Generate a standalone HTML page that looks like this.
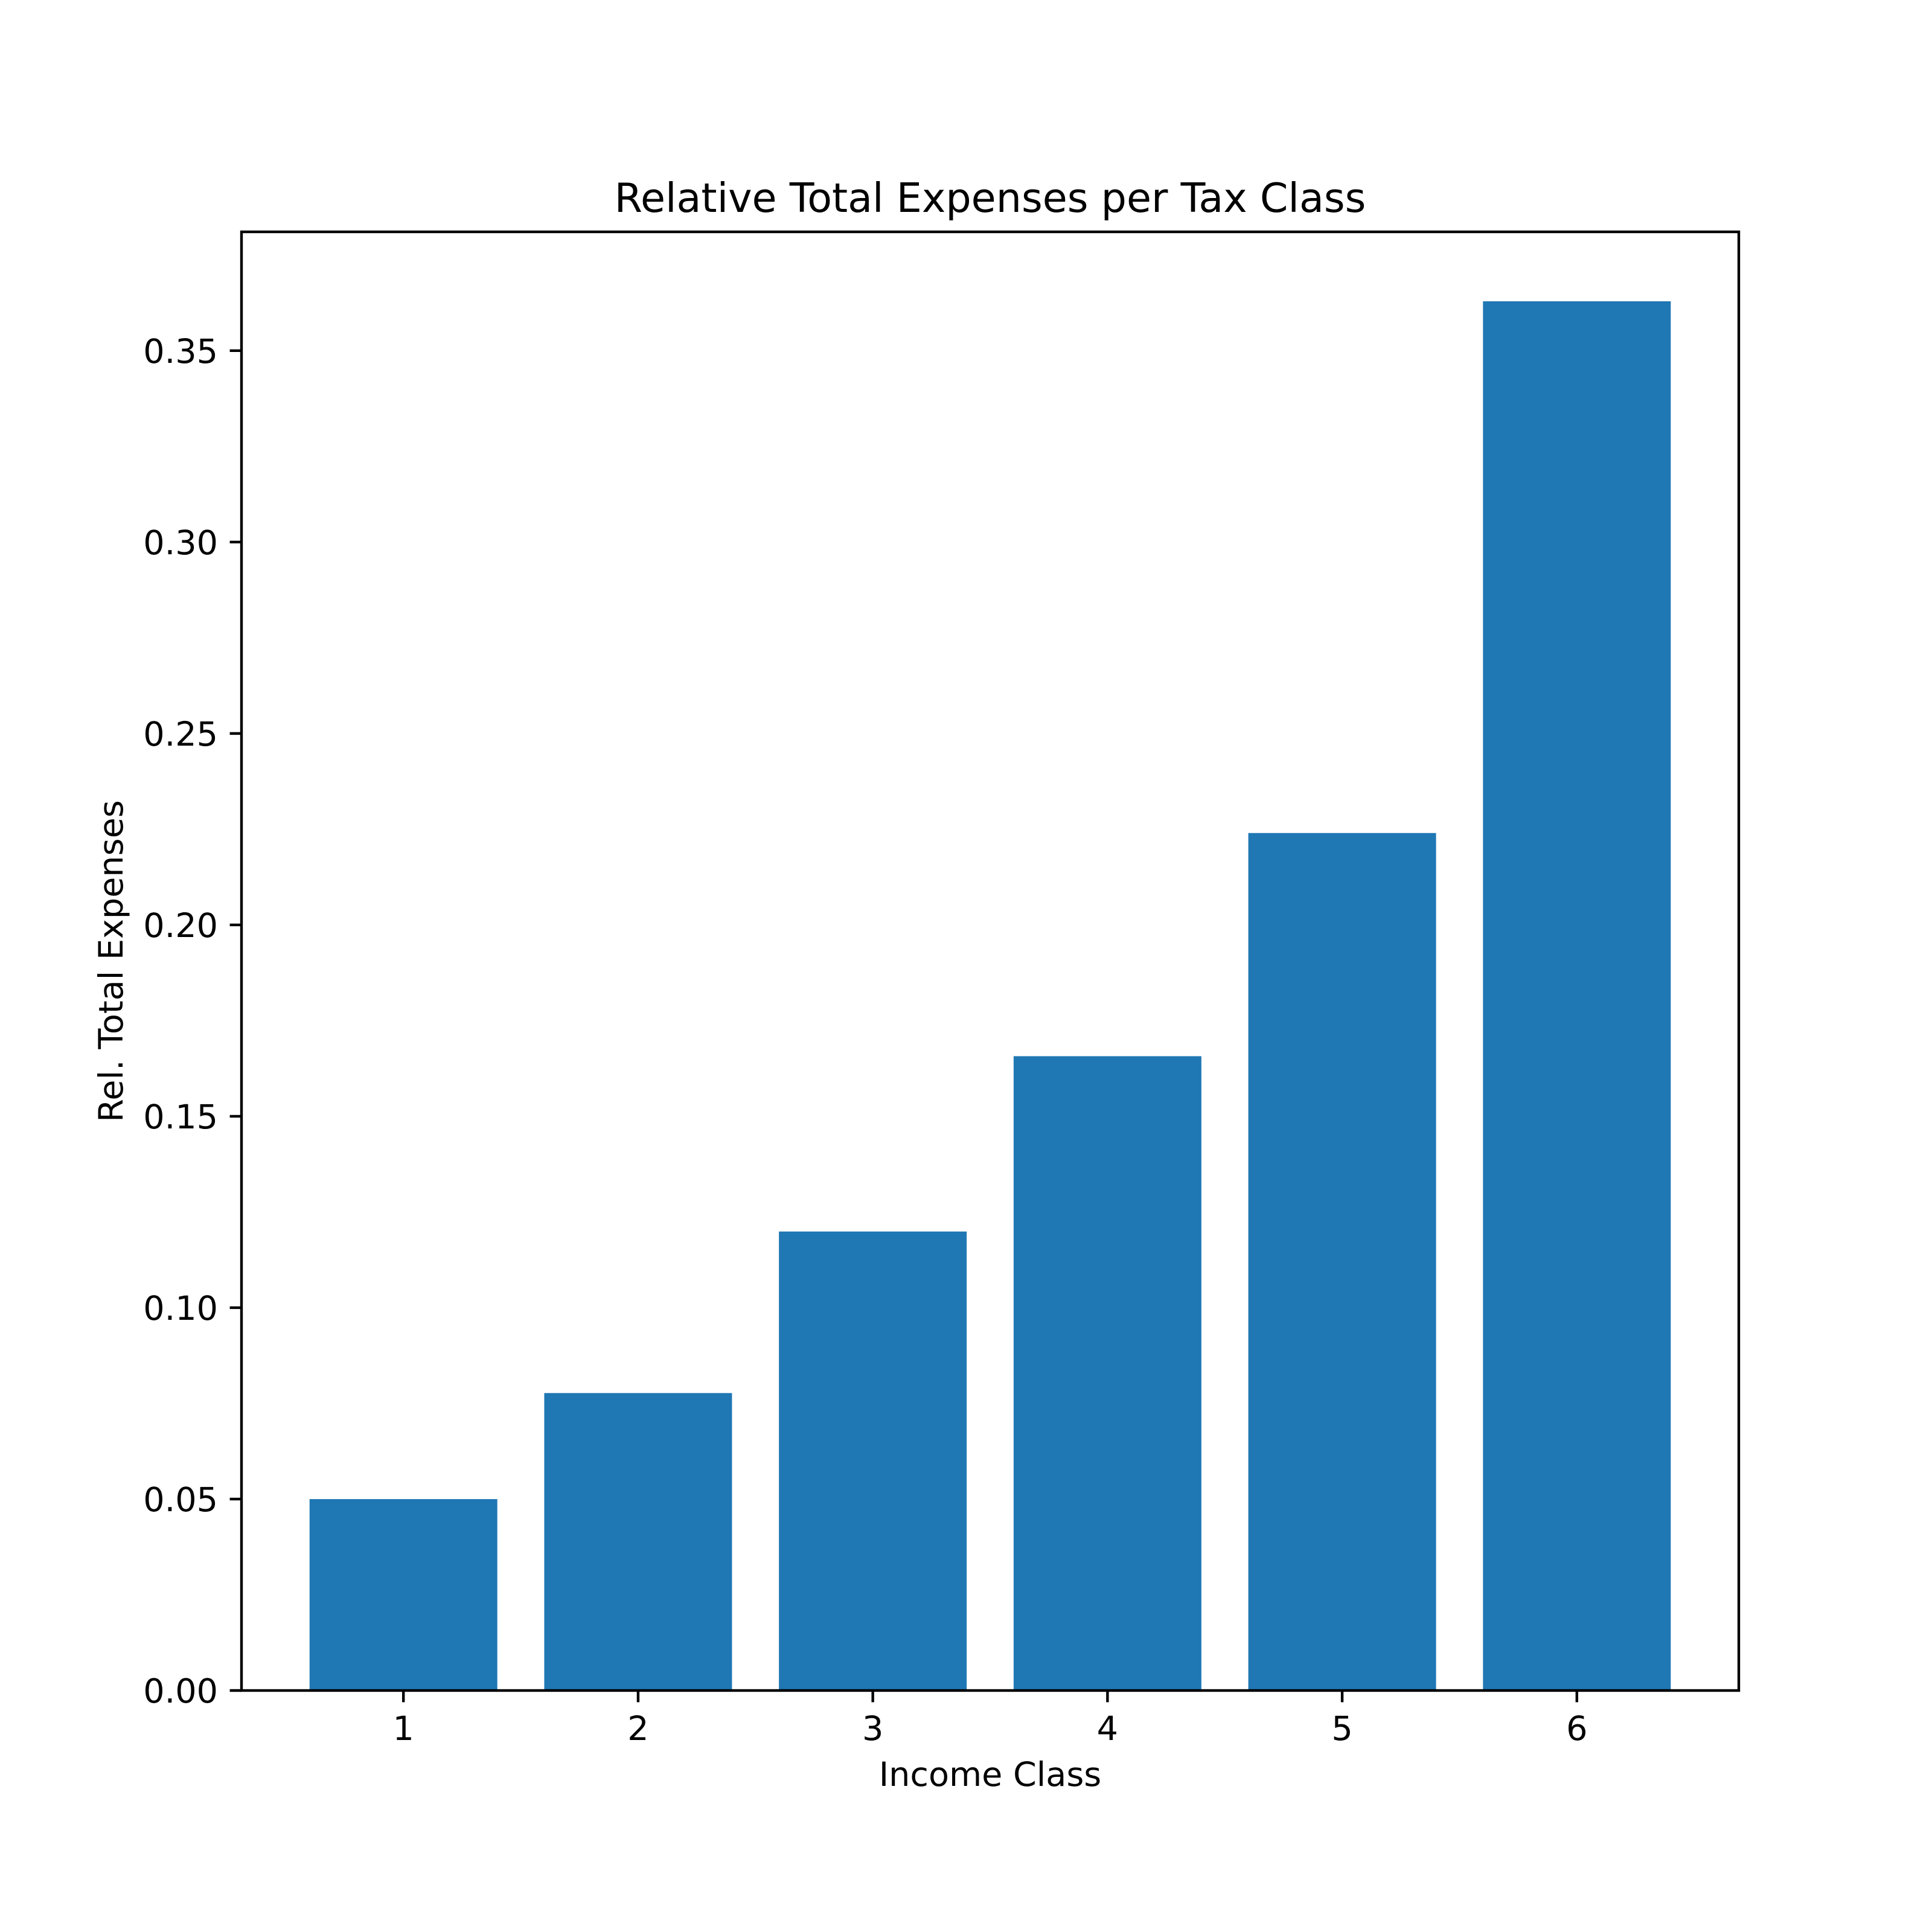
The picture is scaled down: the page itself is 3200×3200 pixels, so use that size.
<!DOCTYPE html>
<html><head><meta charset="utf-8"><style>
html,body{margin:0;padding:0;background:#fff}
svg{display:block}
text{font-family:"DejaVu Sans","Liberation Sans",sans-serif;fill:#000}
</style></head><body>
<svg id="chart" width="3200" height="3200" viewBox="0 0 3200 3200" xmlns="http://www.w3.org/2000/svg">
<rect width="3200" height="3200" fill="#fff"/>
<g id="bars"></g>
<g id="ticks"></g>
<rect x="400" y="384" width="2480" height="2416" fill="none" stroke="#000" stroke-width="4.4"/>
<text x="1640" y="351" font-size="66.7" text-anchor="middle">Relative Total Expenses per Tax Class</text>
<text x="1640" y="2958" font-size="55.6" text-anchor="middle">Income Class</text>
<text x="0" y="0" font-size="55.6" text-anchor="middle" transform="translate(203,1592) rotate(-90)">Rel. Total Expenses</text>
</svg>
<script>
const categories = [1, 2, 3, 4, 5, 6];
const values = [0.0500, 0.0777, 0.1199, 0.1657, 0.2240, 0.3629];
const yTicks = [0, 0.05, 0.10, 0.15, 0.20, 0.25, 0.30, 0.35];
const yTickLabels = ["0.00","0.05","0.10","0.15","0.20","0.25","0.30","0.35"];

const NS = "http://www.w3.org/2000/svg";
const L = 400, R = 2880, T = 384, B = 2800;
const xMin = 0.31, xMax = 6.69;
const yMax = Math.max(...values) * 1.05;
const xs = v => L + (v - xMin) / (xMax - xMin) * (R - L);
const ys = v => B - v / yMax * (B - T);
const barsG = document.getElementById('bars');
const ticksG = document.getElementById('ticks');

categories.forEach((c, i) => {
  const r = document.createElementNS(NS, 'rect');
  const x0 = xs(c - 0.4), x1 = xs(c + 0.4);
  r.setAttribute('x', x0);
  r.setAttribute('width', x1 - x0);
  r.setAttribute('y', ys(values[i]));
  r.setAttribute('height', B - ys(values[i]));
  r.setAttribute('fill', '#1f77b4');
  
  
  barsG.appendChild(r);

  const t = document.createElementNS(NS, 'line');
  t.setAttribute('x1', xs(c)); t.setAttribute('x2', xs(c));
  t.setAttribute('y1', B); t.setAttribute('y2', B + 19.4);
  t.setAttribute('stroke', '#000'); t.setAttribute('stroke-width', '4.4');
  
  
  ticksG.appendChild(t);

  const tl = document.createElementNS(NS, 'text');
  tl.setAttribute('x', xs(c)); tl.setAttribute('y', 2882);
  tl.setAttribute('font-size', '55.6'); tl.setAttribute('text-anchor', 'middle');
  tl.textContent = String(c);
  
  
  ticksG.appendChild(tl);
});

yTicks.forEach((v, i) => {
  const t = document.createElementNS(NS, 'line');
  t.setAttribute('x1', L - 19.4); t.setAttribute('x2', L);
  t.setAttribute('y1', ys(v)); t.setAttribute('y2', ys(v));
  t.setAttribute('stroke', '#000'); t.setAttribute('stroke-width', '4.4');
  
  
  ticksG.appendChild(t);

  const tl = document.createElementNS(NS, 'text');
  tl.setAttribute('x', L - 39); tl.setAttribute('y', ys(v) + 20);
  tl.setAttribute('font-size', '55.6'); tl.setAttribute('text-anchor', 'end');
  tl.textContent = yTickLabels[i];
  
  
  ticksG.appendChild(tl);
});
</script>
</body></html>
